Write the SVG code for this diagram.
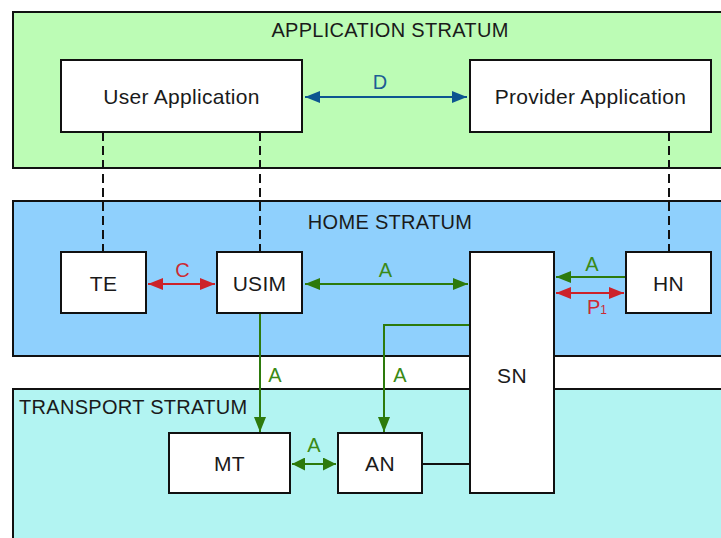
<svg xmlns="http://www.w3.org/2000/svg" width="721" height="538" viewBox="0 0 721 538">
<defs>
<style>
text{font-family:"Liberation Sans",Arial,sans-serif;font-size:20px;text-anchor:middle;fill:#1a1a1a}
.n{font-size:21px;letter-spacing:0.3px}
.s{font-size:20px;letter-spacing:0.3px}
.stratum{stroke:#111;stroke-width:2}
.box{fill:#fff;stroke:#111;stroke-width:2}
.dash{stroke:#111;stroke-width:2;stroke-dasharray:9,5;fill:none}
.g{stroke:#2d7a0c;stroke-width:2;fill:none}
.r{stroke:#cc2229;stroke-width:2;fill:none}
.b{stroke:#0d5590;stroke-width:2;fill:none}
.k{stroke:#111;stroke-width:2;fill:none}
.lg{fill:#3a8a16}
.lr{fill:#cc2a33}
.lb{fill:#1d5c94}
</style>
<marker id="ag" markerUnits="userSpaceOnUse" viewBox="0 0 15 12" refX="15" refY="6" markerWidth="15" markerHeight="12" orient="auto-start-reverse"><path d="M0,0 L15,6 L0,12 z" fill="#2d7a0c"/></marker>
<marker id="ar" markerUnits="userSpaceOnUse" viewBox="0 0 15 12" refX="15" refY="6" markerWidth="15" markerHeight="12" orient="auto-start-reverse"><path d="M0,0 L15,6 L0,12 z" fill="#cc2229"/></marker>
<marker id="ab" markerUnits="userSpaceOnUse" viewBox="0 0 15 12" refX="15" refY="6" markerWidth="15" markerHeight="12" orient="auto-start-reverse"><path d="M0,0 L15,6 L0,12 z" fill="#0d5590"/></marker>
<marker id="ag2" markerUnits="userSpaceOnUse" viewBox="0 0 13 13" refX="13" refY="6.5" markerWidth="13" markerHeight="13" orient="auto-start-reverse"><path d="M0,0 L13,6.5 L0,13 z" fill="#2d7a0c"/></marker>
</defs>
<rect width="721" height="538" fill="#fff"/>
<g id="application-stratum">
<rect class="stratum" x="13" y="12" width="720" height="156" fill="#bcfcb5"/>
<text class="s" x="390" y="37">APPLICATION STRATUM</text>
</g>
<g id="home-stratum">
<rect class="stratum" x="13" y="201" width="720" height="155" fill="#8fd0fd"/>
<text class="s" x="390" y="229">HOME STRATUM</text>
</g>
<g id="transport-stratum">
<rect class="stratum" x="13" y="389" width="720" height="160" fill="#b2f4f2"/>
<text class="s" x="19" y="414" style="text-anchor:start">TRANSPORT STRATUM</text>
</g>
<g id="connectors">
<line class="dash" x1="103" y1="132" x2="103" y2="252"/>
<line class="dash" x1="260" y1="132" x2="260" y2="252"/>
<line class="dash" x1="669" y1="132" x2="669" y2="252"/>
<line class="b" x1="305" y1="97" x2="467" y2="97" marker-start="url(#ab)" marker-end="url(#ab)"/>
<text class="lb" x="380" y="89">D</text>
<line class="r" x1="148" y1="284" x2="215" y2="284" marker-start="url(#ar)" marker-end="url(#ar)"/>
<text class="lr" x="182.5" y="277">C</text>
<line class="g" x1="305" y1="284" x2="468" y2="284" marker-start="url(#ag)" marker-end="url(#ag)"/>
<text class="lg" x="385.5" y="277">A</text>
<line class="g" x1="626" y1="277" x2="556" y2="277" marker-end="url(#ag)"/>
<text class="lg" x="592" y="271">A</text>
<line class="r" x1="556" y1="293" x2="624" y2="293" marker-start="url(#ar)" marker-end="url(#ar)"/>
<text class="lr" x="597" y="314">P<tspan style="font-size:12px">1</tspan></text>
<line class="g" x1="260" y1="313" x2="260" y2="432" marker-end="url(#ag)"/>
<text class="lg" x="275" y="382">A</text>
<polyline class="g" points="470,325 384,325 384,432" marker-end="url(#ag)"/>
<text class="lg" x="400" y="382">A</text>
<line class="g" x1="292" y1="464" x2="336" y2="464" marker-start="url(#ag2)" marker-end="url(#ag2)"/>
<text class="lg" x="314" y="452">A</text>
<line class="k" x1="422" y1="464" x2="470" y2="464"/>
</g>
<g id="user-application">
<rect class="box" x="61" y="60" width="241" height="72"/>
<text class="n" x="181.5" y="104">User Application</text>
</g>
<g id="provider-application">
<rect class="box" x="470" y="60" width="241" height="72"/>
<text class="n" x="590.5" y="104">Provider Application</text>
</g>
<g id="te">
<rect class="box" x="61" y="252" width="85" height="61"/>
<text class="n" x="103.5" y="291">TE</text>
</g>
<g id="usim">
<rect class="box" x="217" y="252" width="85" height="61"/>
<text class="n" x="259.5" y="291">USIM</text>
</g>
<g id="hn">
<rect class="box" x="626" y="252" width="85" height="61"/>
<text class="n" x="668.5" y="291">HN</text>
</g>
<g id="sn">
<rect class="box" x="470" y="252" width="84" height="241"/>
<text class="n" x="512" y="383">SN</text>
</g>
<g id="mt">
<rect class="box" x="169" y="433" width="121" height="60"/>
<text class="n" x="229.5" y="471">MT</text>
</g>
<g id="an">
<rect class="box" x="338" y="433" width="84" height="60"/>
<text class="n" x="380" y="471">AN</text>
</g>
</svg>
